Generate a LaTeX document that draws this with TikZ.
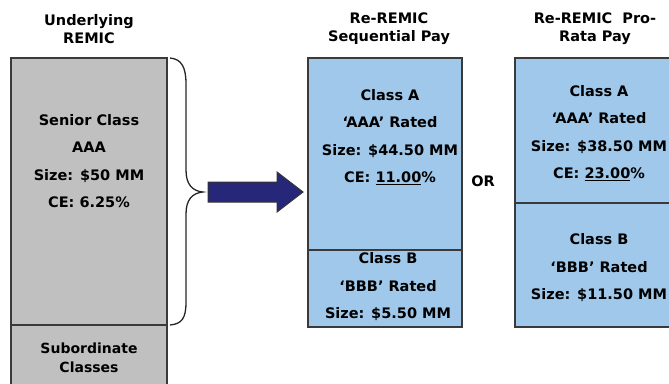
\documentclass[tikz,border=0pt]{standalone}
\usepackage{fontspec}
\setmainfont{DejaVu Sans}
\definecolor{tranchegrey}{HTML}{C0C0C0}
\definecolor{trancheblue}{HTML}{9FC8EA}
\definecolor{arrownavy}{HTML}{262779}
\definecolor{edgegrey}{HTML}{3A3A3A}
\tikzset{
  tranche/.style={draw=edgegrey, line width=1.8pt, inner sep=0pt},
  cell/.style={align=center, inner sep=0pt, font=\bfseries\fontsize{14.5}{27.5}\selectfont},
  heading/.style={align=center, inner sep=0pt, font=\bfseries\fontsize{14.5}{18}\selectfont}
}
\begin{document}
\begin{tikzpicture}[x=1pt, y=-1pt]
\useasboundingbox (0,0) rectangle (669,383);

% Headings
\node[heading] (h_under) at (89,29) {Underlying\\REMIC};
\node[heading] (h_seq) at (389,29) {Re-REMIC\\Sequential Pay};
\node[heading] (h_pro) at (595,29) {Re-REMIC\ \ Pro-\\Rata Pay};

% Underlying REMIC
\path[tranche, fill=tranchegrey] (11,58) rectangle (167,325);
\path[tranche, fill=tranchegrey] (11,325) rectangle (167,392);
\node[cell] (senior) at (89,161) {Senior Class\\AAA\\Size: \$50 MM\\CE: 6.25\%};
\node[heading, font=\bfseries\fontsize{14}{18.5}\selectfont] (sub) at (89,358) {Subordinate\\Classes};

% Brace over the senior class
\coordinate (br_top) at (170,58);
\coordinate (br_tip) at (203,192);
\coordinate (br_bot) at (170,325);
\draw[line width=1.3pt, black!85] (br_top) .. controls (182,59) and (186,68) .. (186,84)
  -- (186,170) .. controls (186,184) and (192,191) .. (br_tip)
  .. controls (192,193) and (186,200) .. (186,214)
  -- (186,302) .. controls (186,318) and (182,324) .. (br_bot);

% Block arrow
\draw[line width=1pt, fill=arrownavy, draw=black!80] (208,182) -- (277,182) -- (277,172)
  -- (303,192) -- (277,212) -- (277,202) -- (208,202) -- cycle;

% Re-REMIC sequential pay
\path[tranche, fill=trancheblue] (308,58) rectangle (462,250);
\path[tranche, fill=trancheblue] (308,250) rectangle (462,327);
\node[cell] (seq_a) at (390,137) {Class A\\`AAA' Rated\\Size: \$44.50 MM\\CE: \underline{11.00}\%};
\node[cell] (seq_b) at (388,287) {Class B\\`BBB' Rated\\Size: \$5.50 MM};

\node[cell] (or) at (483,181) {OR};

% Re-REMIC pro-rata pay
\path[tranche, fill=trancheblue] (515,58) rectangle (674,203);
\path[tranche, fill=trancheblue] (515,203) rectangle (674,327);
\node[cell] (pro_a) at (599,133) {Class A\\`AAA' Rated\\Size: \$38.50 MM\\CE: \underline{23.00}\%};
\node[cell] (pro_b) at (599,268) {Class B\\`BBB' Rated\\Size: \$11.50 MM};
\end{tikzpicture}
\end{document}
